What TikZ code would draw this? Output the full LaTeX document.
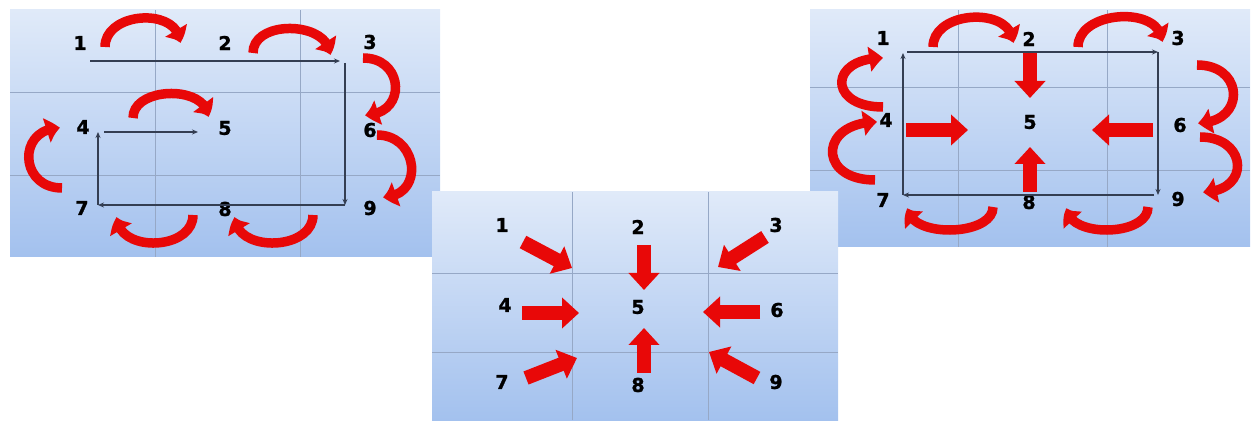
\documentclass[tikz,border=0pt]{standalone}
\usepackage{fontspec}
\setmainfont{DejaVu Sans}
\newfontfamily\numfont{DejaVu Sans Bold}[FakeBold=1.2]
\usetikzlibrary{arrows.meta,calc,bending}
\definecolor{paneltop}{RGB}{224,234,249}
\definecolor{panelbot}{RGB}{163,193,238}
\definecolor{gridline}{RGB}{150,168,198}
\definecolor{flowline}{RGB}{52,62,82}
\definecolor{arrowred}{RGB}{232,8,8}
\tikzset{
  num/.style={
    font=\fontsize{19}{19}\numfont,
    text=black,
    inner sep=0pt
  },
  bow/.style={
    draw=arrowred,
    line width=9.5pt,
    -{Triangle[width=24pt,length=14pt,bend]}
  },
  push/.style={
    draw=arrowred,
    line width=14pt,
    -{Triangle[width=30pt,length=17pt]}
  },
  flow/.style={
    draw=flowline,
    line width=1.3pt,
    -{Stealth[length=6pt,width=5pt]}
  },
  panel/.style={
    top color=paneltop,
    bottom color=panelbot
  },
  gridl/.style={
    draw=gridline,
    line width=0.8pt
  }
}

\begin{document}
\begin{tikzpicture}[x=1pt,y=1pt]
    \useasboundingbox (0,0) rectangle (1257,420);
    % left panel
    \shade[panel] (10,163) rectangle (440,410);
    \draw[gridl] (155,163) -- (155,410) (300,163) -- (300,410)
                 (10,245) -- (440,245) (10,328) -- (440,328);
    \foreach \n/\x/\y in {1/80/377, 2/225/377, 3/370/378, 4/83/293, 5/225/292,
                          6/370/290, 7/82/212, 8/225/211, 9/370/212}{
        \node[num] (L\n) at (\x,\y) {\n};
    }
    \coordinate (la) at (90,359);
    \coordinate (lb) at (345,359);
    \coordinate (lc) at (345,215);
    \coordinate (ld) at (98,215);
    \coordinate (le) at (98,288);
    \coordinate (lf) at (198,288);
    \draw[flow] (la) -- ([xshift=-5pt]lb);
    \draw[flow] ([yshift=-2pt]lb) -- (lc);
    \draw[flow] (lc) -- (ld);
    \draw[flow] (ld) -- (le);
    \draw[flow] ([xshift=6pt]le) -- (lf);
    \draw[bow] ($(L1)+(25,-4)$) .. controls +(0,36) and +(0,36) .. ($(L2)+(-45,0)$);
    \draw[bow] ($(L2)+(28,-10)$) .. controls +(0,34) and +(0,34) .. ($(L3)+(-40,-13)$);
    \draw[bow] ($(L4)+(50,9)$) .. controls +(0,32) and +(0,32) .. ($(L5)+(-17,11)$);
    \draw[bow] ($(L3)+(-7,-16)$) .. controls +(42,0) and +(42,0) .. ($(L6)+(-5,15)$);
    \draw[bow] ($(L6)+(7,-5)$) .. controls +(42,0) and +(42,0) .. ($(L9)+(13,11)$);
    \draw[bow] ($(L7)+(-20,20)$) .. controls +(-43,0) and +(-43,0) .. ($(L4)+(-23,-1)$);
    \draw[bow] ($(L8)+(-32,-6)$) .. controls +(0,-36) and +(0,-36) .. ($(L7)+(35,-9)$);
    \draw[bow] ($(L9)+(-57,-7)$) .. controls +(0,-36) and +(0,-36) .. ($(L8)+(10,-8)$);

    % right panel
    \shade[panel] (810,173) rectangle (1250,410);
    \draw[gridl] (958,173) -- (958,410) (1107,173) -- (1107,410)
                 (810,250) -- (1250,250) (810,333) -- (1250,333);
    \foreach \n/\x/\y in {1/883/382, 2/1029/381, 3/1178/382, 4/886/300, 5/1030/298,
                          6/1180/295, 7/883/220, 8/1029/218, 9/1178/221}{
        \node[num] (R\n) at (\x,\y) {\n};
    }
    \coordinate (ra) at (903,368);
    \coordinate (rb) at (1158,368);
    \coordinate (rc) at (1158,225);
    \coordinate (rd) at (903,225);
    \draw[flow] ([xshift=4pt]ra) -- (rb);
    \draw[flow] (rb) -- (rc);
    \draw[flow] ([xshift=-4pt]rc) -- (rd);
    \draw[flow] (rd) -- ([yshift=-1pt]ra);
    \draw[bow] ($(R1)+(50,-9)$) .. controls +(0,37) and +(0,37) .. ($(R2)+(-16,-4)$);
    \draw[bow] ($(R2)+(49,-8)$) .. controls +(0,37) and +(0,37) .. ($(R3)+(-16,-4)$);
    \draw[bow] ($(R3)+(19,-27)$) .. controls +(48,0) and +(48,0) .. ($(R6)+(18,2)$);
    \draw[bow] ($(R6)+(20,-12)$) .. controls +(48,0) and +(48,0) .. ($(R9)+(25,7)$);
    \draw[bow] ($(R4)+(-3,13)$) .. controls +(-55,0) and +(-55,0) .. ($(R1)+(0,-20)$);
    \draw[bow] ($(R7)+(-8,20)$) .. controls +(-58,0) and +(-58,0) .. ($(R4)+(-9,-2)$);
    \draw[bow] ($(R9)+(-30,-8)$) .. controls +(0,-30) and +(0,-30) .. ($(R8)+(38,-6)$);
    \draw[bow] ($(R8)+(-36,-5)$) .. controls +(0,-30) and +(0,-30) .. ($(R7)+(25,-8)$);
    \draw[push] ($(R2)+(1,-14)$) -- ($(R5)+(0,24)$);
    \draw[push] ($(R4)+(20,-10)$) -- ($(R5)+(-62,-8)$);
    \draw[push] ($(R6)+(-27,-5)$) -- ($(R5)+(62,-8)$);
    \draw[push] ($(R8)+(1,10)$) -- ($(R5)+(0,-25)$);

    % middle panel
    \shade[panel] (432,0) rectangle (838,228);
    \draw[gridl] (572,0) -- (572,228) (708,0) -- (708,228)
                 (432,68) -- (838,68) (432,147) -- (838,147);
    \foreach \n/\x/\y in {1/502/195, 2/638/193, 3/776/195, 4/505/115, 5/638/113,
                          6/777/110, 7/502/38, 8/638/35, 9/776/38}{
        \node[num] (M\n) at (\x,\y) {\n};
    }
    \draw[push] ($(M1)+(21,-17)$) -- ($(M5)+(-66,39)$);
    \draw[push] ($(M2)+(6,-18)$) -- ($(M5)+(6,17)$);
    \draw[push] ($(M3)+(-11,-12)$) -- ($(M5)+(80,40)$);
    \draw[push] ($(M4)+(17,-8)$) -- ($(M5)+(-59,-6)$);
    \draw[push] ($(M6)+(-17,-2)$) -- ($(M5)+(65,-5)$);
    \draw[push] ($(M7)+(24,4)$) -- ($(M5)+(-61,-51)$);
    \draw[push] ($(M8)+(6,12)$) -- ($(M5)+(6,-21)$);
    \draw[push] ($(M9)+(-19,4)$) -- ($(M5)+(71,-45)$);
\end{tikzpicture}
\end{document}
